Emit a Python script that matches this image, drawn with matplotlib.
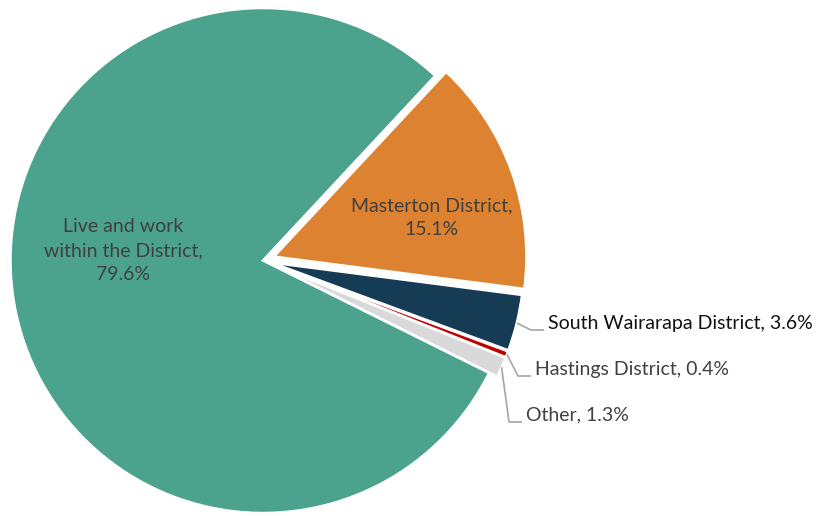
import numpy as np
import matplotlib
matplotlib.use("Agg")
import matplotlib.pyplot as plt

# commuting destinations, share of workers (%)
labels = ["Masterton District", "South Wairarapa District", "Hastings District",
          "Other", "Live and work within the District"]
shares = [15.1, 3.6, 0.4, 1.3, 79.6]
colors = ["#DD8230", "#163B54", "#C00000", "#D9D9D9", "#4CA38D"]
explode_frac = [0.046, 0.035, 0.035, 0.035, 0.0]

plt.rcParams["font.family"] = ["Lato", "DejaVu Sans"]

W, H = 819, 516
fig = plt.figure(figsize=(W / 100, H / 100), dpi=100)
ax = fig.add_axes([0, 0, 1, 1])

cx, cy, R = 263, H - 260.5, 252.5
start = 47
# pie() takes the offset in data units, so scale by the radius
wedges, _ = ax.pie(shares, colors=colors, explode=[e * R for e in explode_frac],
                   startangle=start, counterclock=False, center=(cx, cy), radius=R,
                   wedgeprops=dict(edgecolor="white", linewidth=1.8))
ax.set_xlim(0, W)
ax.set_ylim(0, H)
ax.axis("off")

txt = "#404040"
fs = 14
# labels drawn inside the two big slices
ax.text(123, H - 251, "Live and work\nwithin the District,\n%.1f%%" % shares[4],
        ha="center", va="center", fontsize=fs, color=txt, linespacing=1.5)
ax.text(432, H - 218, "Masterton District,\n%.1f%%" % shares[0],
        ha="center", va="center", fontsize=fs, color=txt, linespacing=1.45)

# outside labels with leader lines for the small slices
outside = {1: (548, 323, "#111111"), 2: (535, 369, txt), 3: (526, 415, txt)}
for i, (tx, ty, col) in outside.items():
    w = wedges[i]
    mid = np.deg2rad((w.theta1 + w.theta2) / 2)
    ox, oy = w.center
    sx = ox + w.r * np.cos(mid)
    sy = oy + w.r * np.sin(mid)
    ly = H - ty - 7
    ax.plot([sx, tx - 17, tx - 4], [sy, ly, ly], color="#A6A6A6", lw=1.2,
            solid_capstyle="butt")
    ax.text(tx, H - ty, "%s, %.1f%%" % (labels[i], shares[i]), ha="left",
            va="center", fontsize=fs, color=col)

fig.savefig("out.png", dpi=100)
